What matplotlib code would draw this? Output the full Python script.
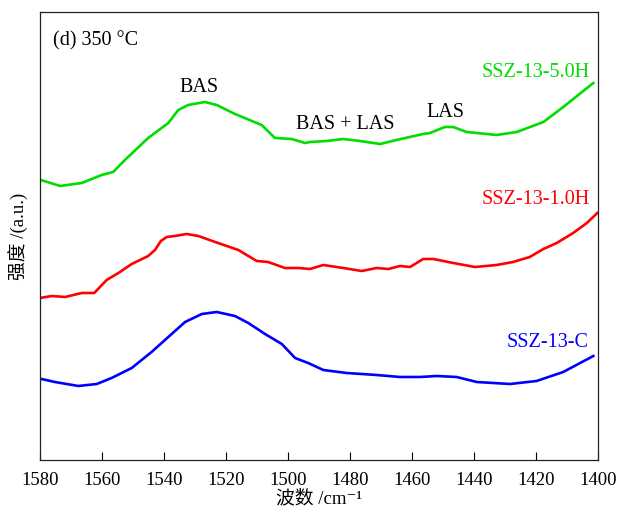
import matplotlib
matplotlib.use("Agg")
import matplotlib.pyplot as plt

plt.rcParams['font.family'] = ['Liberation Serif', 'Noto Sans CJK SC', 'DejaVu Sans']

# pyridine-IR spectra after desorption at 350 C (intensity offset, a.u.)
wn_5h = [1579.7, 1573.5, 1566.5, 1560.1, 1556.4, 1552.6, 1545.1, 1538.6, 1535.4, 1532.2,
         1526.8, 1523.0, 1517.1, 1508.5, 1504.2, 1498.8, 1494.5, 1492.9, 1487.5, 1482.2,
         1476.8, 1470.3, 1465.0, 1456.4, 1454.2, 1449.4, 1446.7, 1442.4, 1432.7, 1426.2,
         1417.6, 1411.2, 1401.5]
int_5h = [280, 274, 277, 285, 288, 300, 322, 337, 350, 355,
          358, 355, 346, 335, 322, 321, 317, 318, 319, 321,
          319, 316, 320, 326, 327, 333, 333, 328, 325, 328,
          338, 353, 377]

wn_1h = [1580.0, 1576.2, 1571.9, 1566.5, 1562.5, 1558.5, 1554.7, 1550.4, 1545.1, 1542.9,
         1541.0, 1539.1, 1536.5, 1532.7, 1528.9, 1523.5, 1516.0, 1510.1, 1506.4, 1501.0,
         1496.7, 1492.9, 1488.6, 1482.2, 1476.2, 1471.4, 1467.6, 1463.9, 1460.6, 1456.4,
         1453.1, 1446.7, 1439.7, 1432.7, 1427.4, 1422.0, 1417.6, 1413.3, 1408.0, 1403.6,
         1400.2]
int_1h = [162, 164, 163, 167, 167, 180, 187, 196, 204, 210,
          219, 223, 224, 226, 224, 218, 210, 199, 198, 192,
          192, 191, 195, 192, 189, 192, 191, 194, 193, 201,
          201, 197, 193, 195, 198, 203, 211, 217, 227, 237,
          247]

wn_c = [1579.5, 1575.2, 1571.4, 1567.6, 1561.7, 1556.9, 1550.4, 1544.0, 1538.6, 1533.2,
        1527.8, 1523.0, 1517.1, 1512.8, 1507.4, 1502.0, 1497.7, 1493.5, 1488.6, 1481.1,
        1471.4, 1463.9, 1457.4, 1452.0, 1445.6, 1439.1, 1428.4, 1419.8, 1411.2, 1401.5]
int_c = [81, 78, 76, 74, 76, 82, 92, 108, 123, 138,
         146, 148, 144, 137, 126, 116, 102, 97, 90, 87,
         85, 83, 83, 84, 83, 78, 76, 79, 88, 104]

green = '#00dd00'
red = '#ff0000'
blue = '#0000ff'

fig = plt.figure(figsize=(6.18, 5.08), dpi=100)
ax = fig.add_axes([0.0647, 0.0945, 0.9029, 0.8819])

ax.plot(wn_5h, int_5h, color=green, lw=1.9, solid_joinstyle='round')
ax.plot(wn_1h, int_1h, color=red, lw=1.9, solid_joinstyle='round')
ax.plot(wn_c, int_c, color=blue, lw=1.9, solid_joinstyle='round')

ax.set_xlim(1580, 1400)
ax.set_ylim(0, 448)
ax.set_xticks(range(1580, 1399, -20))
ax.set_yticks([])
ax.tick_params(axis='x', direction='in', length=6, width=0.8, labelsize=13.5, pad=9)
for s in ax.spines.values():
    s.set_linewidth(0.9)
    s.set_color('#222222')

ax.set_xlabel('波数 /cm⁻¹', fontsize=13.5, labelpad=0)
ax.set_ylabel('强度 /(a.u.)', fontsize=13.5, labelpad=8)

ax.text(1575.8, 419, '(d) 350 °C', fontsize=14.5, va='center', ha='left')
ax.text(1528.7, 372, 'BAS', fontsize=14.5, ha='center', va='center')
ax.text(1481.6, 335, 'BAS + LAS', fontsize=14.5, ha='center', va='center')
ax.text(1449.2, 347, 'LAS', fontsize=14.5, ha='center', va='center')
ax.text(1402.5, 387, 'SSZ-13-5.0H', fontsize=14.5, color=green, ha='right', va='center')
ax.text(1402.5, 260, 'SSZ-13-1.0H', fontsize=14.5, color=red, ha='right', va='center')
ax.text(1403, 117, 'SSZ-13-C', fontsize=14.5, color=blue, ha='right', va='center')

fig.savefig('out.png', dpi=100)
